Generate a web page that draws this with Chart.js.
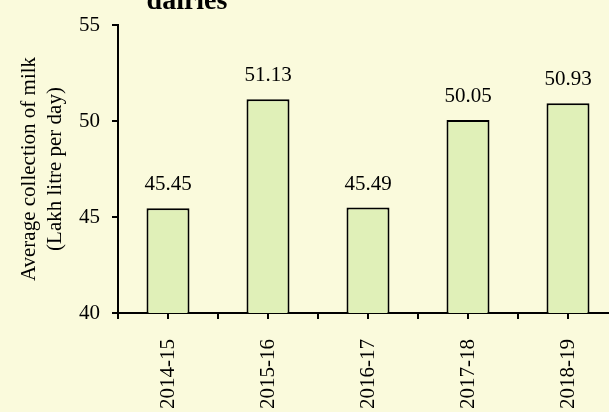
<!DOCTYPE html>
<html>
<head>
<meta charset="utf-8">
<script src="https://cdn.jsdelivr.net/npm/chart.js@4"></script>
<style>
  html, body { margin: 0; padding: 0; background: #fafadc; overflow: hidden; }
  #wrap { width: 620px; height: 412px; }
</style>
</head>
<body>
<div id="wrap"><canvas id="milkChart" width="620" height="412"></canvas></div>
<script>
// data
const years = ['2014-15', '2015-16', '2016-17', '2017-18', '2018-19'];
const milkCollection = [45.45, 51.13, 45.49, 50.05, 50.93];
const yTicks = [40, 45, 50, 55];

const serif = '"Liberation Serif", "Times New Roman", serif';

// values above bars
const valueLabels = {
    id: 'valueLabels',
    afterDatasetsDraw(chart) {
        const ctx = chart.ctx;
        const meta = chart.getDatasetMeta(0);
        ctx.save();
        ctx.fillStyle = '#000';
        ctx.font = '21px ' + serif;
        ctx.textAlign = 'center';
        ctx.textBaseline = 'alphabetic';
        meta.data.forEach((bar, i) => {
            ctx.fillText(milkCollection[i].toFixed(2), bar.x, bar.y - 18);
        });
        ctx.restore();
    }
};

// tick marks under the x axis, at the centres and between categories
const xTickMarks = {
    id: 'xTickMarks',
    afterDraw(chart) {
        const ctx = chart.ctx;
        const x = chart.scales.x;
        const y0 = chart.chartArea.bottom;
        const half = (x.getPixelForValue(1) - x.getPixelForValue(0)) / 2;
        ctx.save();
        ctx.strokeStyle = '#000';
        ctx.lineWidth = 2;
        ctx.beginPath();
        for (let i = 0; i < years.length; i++) {
            const c = x.getPixelForValue(i);
            ctx.moveTo(c, y0); ctx.lineTo(c, y0 + 6);
            ctx.moveTo(c - half, y0); ctx.lineTo(c - half, y0 + 6);
            ctx.moveTo(c + half, y0); ctx.lineTo(c + half, y0 + 6);
        }
        ctx.stroke();
        // title, mostly cut off at the top
        ctx.fillStyle = '#000';
        ctx.font = 'bold 28px ' + serif;
        ctx.textAlign = 'center';
        ctx.textBaseline = 'alphabetic';
        ctx.fillText('dairies', 187, 9);
        ctx.restore();
    }
};

new Chart(document.getElementById('milkChart').getContext('2d'), {
    type: 'bar',
    data: {
        labels: years,
        datasets: [{
            data: milkCollection,
            backgroundColor: '#e0f0b8',
            borderColor: '#000',
            borderWidth: 2,
            borderSkipped: false,
            barPercentage: 0.43,
            categoryPercentage: 1
        }]
    },
    options: {
        responsive: false,
        animation: false,
        layout: { padding: { top: 25, right: 2, left: 16, bottom: 0 } },
        plugins: {
            legend: { display: false },
            tooltip: { enabled: false }
        },
        scales: {
            x: {
                grid: { display: false },
                border: { color: '#000', width: 2 },
                ticks: {
                    color: '#000',
                    font: { family: serif, size: 21 },
                    minRotation: 90,
                    maxRotation: 90,
                    padding: 18
                },
                afterFit(scale) { scale.height = 99; }
            },
            y: {
                min: 40,
                max: 55,
                afterBuildTicks(scale) {
                    scale.ticks = yTicks.map(v => ({ value: v }));
                },
                grid: { drawOnChartArea: false, color: '#000', lineWidth: 2, tickLength: 6 },
                border: { color: '#000', width: 2 },
                ticks: {
                    color: '#000',
                    font: { family: serif, size: 21 },
                    padding: 12
                },
                title: {
                    display: true,
                    text: ['Average collection of milk', '(Lakh litre per day)'],
                    color: '#000',
                    font: { family: serif, size: 21, lineHeight: 1.25 },
                    padding: 0
                },
                afterFit(scale) { scale.width = 102; }
            }
        }
    },
    plugins: [valueLabels, xTickMarks]
});
</script>
</body>
</html>
